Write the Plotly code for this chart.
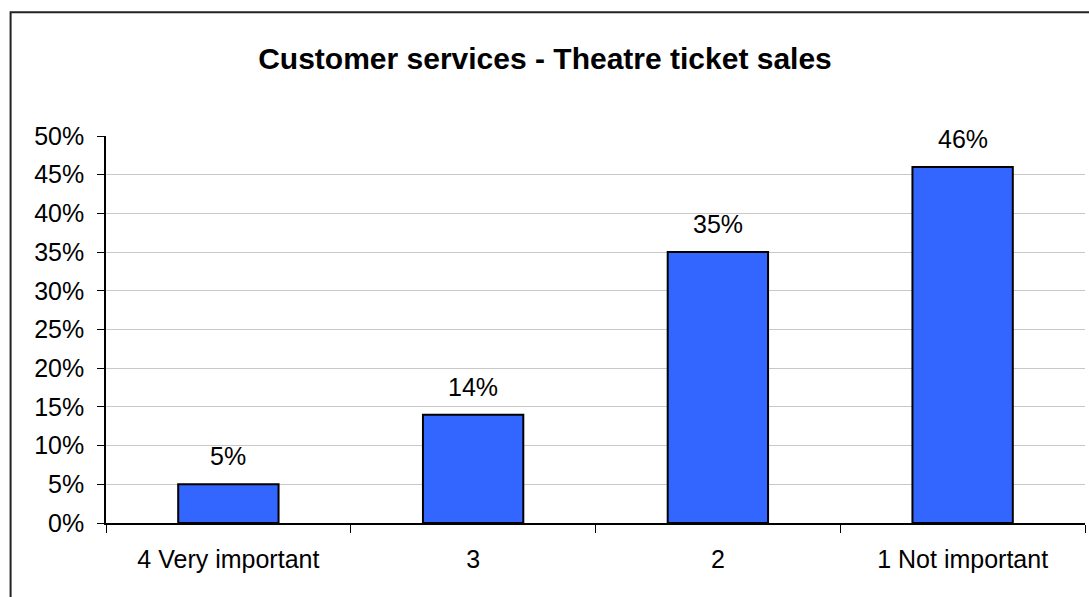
import plotly.graph_objects as go

categories = ["4 Very important", "3", "2", "1 Not important"]
shares = [0.05, 0.14, 0.35, 0.46]
y_ticks = [0.0, 0.05, 0.10, 0.15, 0.20, 0.25, 0.30, 0.35, 0.40, 0.45, 0.50]
title_text = "Customer services - Theatre ticket sales"

FONT = "Arial, Liberation Sans, sans-serif"
TXT = 25

# plot-area margins in pixels
L, R, T, B = 105.5, 3.5, 135.5, 73.5
W, H = 1089, 597
pw, ph = W - L - R, H - T - B

fig = go.Figure()
fig.add_trace(go.Bar(
    x=categories,
    y=shares,
    marker=dict(color="#3366FF", line=dict(color="#000000", width=2)),
    width=0.41,
    hoverinfo="skip",
))

# value labels above each bar (x given as category index)
for i, v in enumerate(shares):
    fig.add_annotation(
        x=i, y=v, text=f"{v:.0%}", showarrow=False,
        xref="x", yref="y",
        yanchor="bottom", yshift=12,
        font=dict(family=FONT, size=TXT, color="#000000"),
    )

# outer chart frame
fig.add_shape(
    type="rect", xref="paper", yref="paper", layer="below",
    x0=(10 - L) / pw, x1=(W + 10 - L) / pw,
    y0=-(H + 10 - (H - B)) / ph, y1=(H - B - 11.5) / ph,
    line=dict(color="#222222", width=2), fillcolor="rgba(0,0,0,0)",
)

fig.update_layout(
    width=W, height=H,
    margin=dict(l=L, r=R, t=T, b=B, pad=0),
    paper_bgcolor="#ffffff", plot_bgcolor="#ffffff",
    showlegend=False,
    title=dict(
        text=f"<b>{title_text}</b>",
        x=545 / W, xanchor="center",
        y=1 - 58 / H, yanchor="middle",
        font=dict(family=FONT, size=30, color="#000000"),
    ),
    font=dict(family=FONT, size=TXT, color="#000000"),
)

fig.update_xaxes(
    type="category",
    showline=True, linecolor="#000000", linewidth=1.5,
    ticks="outside", tickson="boundaries", ticklen=8, tickcolor="#000000",
    showgrid=False,
    tickfont=dict(family=FONT, size=TXT, color="#000000"),
    ticklabelstandoff=13,
)
fig.update_yaxes(
    range=[0, 0.5],
    tickvals=y_ticks, tickformat=".0%",
    showline=True, linecolor="#000000", linewidth=1.5,
    ticks="outside", ticklen=7, tickcolor="#000000",
    showgrid=True, gridcolor="#c8c8c8", gridwidth=1,
    zeroline=False,
    tickfont=dict(family=FONT, size=TXT, color="#000000"),
    ticklabelstandoff=8,
)

fig.write_html("out.html")
